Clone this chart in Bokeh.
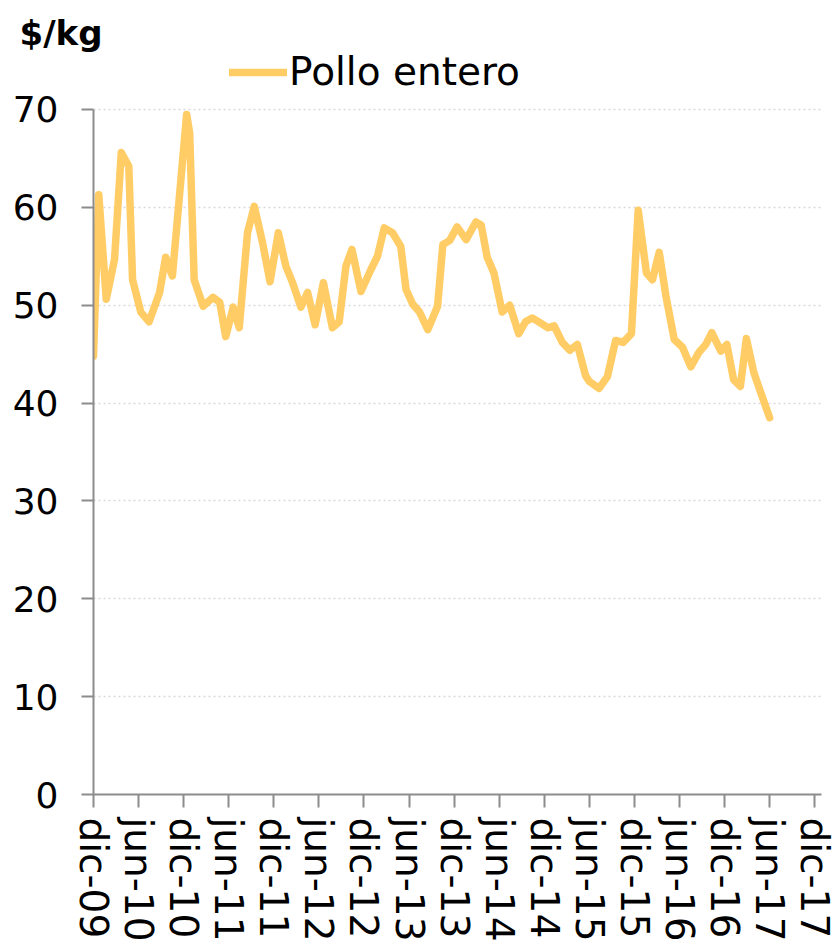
from bokeh.plotting import figure
from bokeh.models import FixedTicker, Range1d, Legend, LegendItem, Title
from bokeh.embed import file_html
from bokeh.resources import INLINE

# ---- data (months since dic-09, price in $/kg) ----
mes = [0, 0.7, 1.7, 2.8, 3.7, 4.7, 5.2, 6.3, 7.4, 8.8, 9.6, 10.5, 11.4, 12.4, 12.8,
       13.4, 14.6, 15.9, 16.8, 17.6, 18.6, 19.4, 20.5, 21.4, 22.5, 23.5, 24.6, 25.6,
       26.5, 27.6, 28.5, 29.5, 30.6, 31.8, 32.7, 33.6, 34.4, 35.6, 36.9, 37.8, 38.7,
       39.8, 40.9, 41.6, 42.5, 43.4, 44.5, 45.8, 46.5, 47.4, 48.4, 49.6, 50.9, 51.6,
       52.4, 53.3, 54.4, 55.4, 56.6, 57.5, 58.4, 60.5, 61.3, 62.4, 63.4, 64.4, 65.5,
       66.0, 67.3, 68.4, 69.5, 70.5, 71.6, 72.5, 73.6, 74.4, 75.3, 76.2, 77.3, 78.4,
       79.5, 80.6, 81.5, 82.3, 83.5, 84.3, 85.2, 86.1, 86.9, 87.9, 88.8, 90.0]
precio = [44.8, 61.3, 50.6, 54.7, 65.6, 64.2, 52.6, 49.3, 48.3, 51.3, 54.9, 53.0, 60.8,
          69.5, 67.6, 52.6, 49.9, 50.8, 50.3, 46.8, 49.8, 47.7, 57.4, 60.1, 56.4, 52.4,
          57.4, 54.0, 52.3, 49.8, 51.3, 48.0, 52.3, 47.7, 48.3, 54.0, 55.7, 51.4, 53.6,
          55.0, 57.9, 57.4, 56.0, 51.6, 50.1, 49.3, 47.5, 49.9, 56.2, 56.6, 58.0, 56.7,
          58.5, 58.2, 54.9, 53.3, 49.3, 50.0, 47.1, 48.3, 48.7, 47.7, 47.9, 46.2, 45.4,
          46.0, 42.8, 42.2, 41.5, 42.7, 46.4, 46.2, 47.1, 59.7, 53.3, 52.6, 55.4, 50.9,
          46.5, 45.7, 43.7, 45.2, 46.0, 47.2, 45.3, 46.0, 42.4, 41.7, 46.6, 43.1, 41.1,
          38.5]
tick_mes = [0, 6, 12, 18, 24, 30, 36, 42, 48, 54, 60, 66, 72, 78, 84, 90, 96]
tick_etiquetas = ["dic-09", "jun-10", "dic-10", "jun-11", "dic-11", "jun-12", "dic-12",
                  "jun-13", "dic-13", "jun-14", "dic-14", "jun-15", "dic-15", "jun-16",
                  "dic-16", "jun-17", "dic-17"]
y_ticks = [0, 10, 20, 30, 40, 50, 60, 70]
serie = "Pollo entero"
unidad = "$/kg"

FONT = "DejaVu Sans"
AXIS_COLOR = "#8c8c8c"

# frame spans from the legend row down to 0; the y axis itself stops at 70
p = figure(width=836, height=944, x_range=Range1d(0, 96.9),
           y_range=Range1d(0, 76.642),
           output_backend="svg", toolbar_location=None,
           min_border_left=93, min_border_right=15, min_border_top=44,
           min_border_bottom=150)
p.outline_line_color = None
p.background_fill_color = "white"
p.border_fill_color = "white"

r = p.line(mes, precio, line_color="#FFCC66", line_width=7.5,
           line_join="round", line_cap="round")

# x axis
xa = p.xaxis[0]
xa.ticker = FixedTicker(ticks=tick_mes)
xa.major_label_overrides = {m: lab for m, lab in zip(tick_mes, tick_etiquetas)}
xa.major_label_orientation = "vertical"
xa.major_label_text_font = FONT
xa.major_label_text_font_size = "39px"
xa.major_label_text_color = "black"
xa.major_label_standoff = 10
xa.major_tick_in = 0
xa.major_tick_out = 13
xa.minor_tick_line_color = None
xa.axis_line_color = AXIS_COLOR
xa.axis_line_width = 2
xa.major_tick_line_color = AXIS_COLOR
xa.major_tick_line_width = 2

# y axis
ya = p.yaxis[0]
ya.ticker = FixedTicker(ticks=y_ticks)
ya.bounds = (0, 70)
ya.major_label_text_font = FONT
ya.major_label_text_font_size = "36px"
ya.major_label_text_color = "black"
ya.major_label_standoff = 23
ya.major_tick_in = 0
ya.major_tick_out = 12
ya.minor_tick_line_color = None
ya.axis_line_color = AXIS_COLOR
ya.axis_line_width = 2
ya.major_tick_line_color = AXIS_COLOR
ya.major_tick_line_width = 2

p.xgrid.grid_line_color = None
p.ygrid.ticker = FixedTicker(ticks=y_ticks[1:])
p.ygrid.grid_line_color = "#d9d9d9"
p.ygrid.grid_line_width = 1.5
p.ygrid.grid_line_dash = "2 3"

legend = Legend(items=[LegendItem(label=serie, renderers=[r])], location=(136, 700),
                border_line_color=None, background_fill_alpha=0, padding=0, margin=0,
                glyph_width=58, glyph_height=30, label_standoff=2,
                label_text_font=FONT, label_text_font_size="39px",
                label_text_color="black")
p.add_layout(legend)

p.add_layout(Title(text=unidad, align="left", offset=-74, standoff=-16, text_font=FONT,
                   text_font_style="bold", text_font_size="34px",
                   text_color="black"), "above")

open("out.html", "w").write(file_html(p, INLINE))
